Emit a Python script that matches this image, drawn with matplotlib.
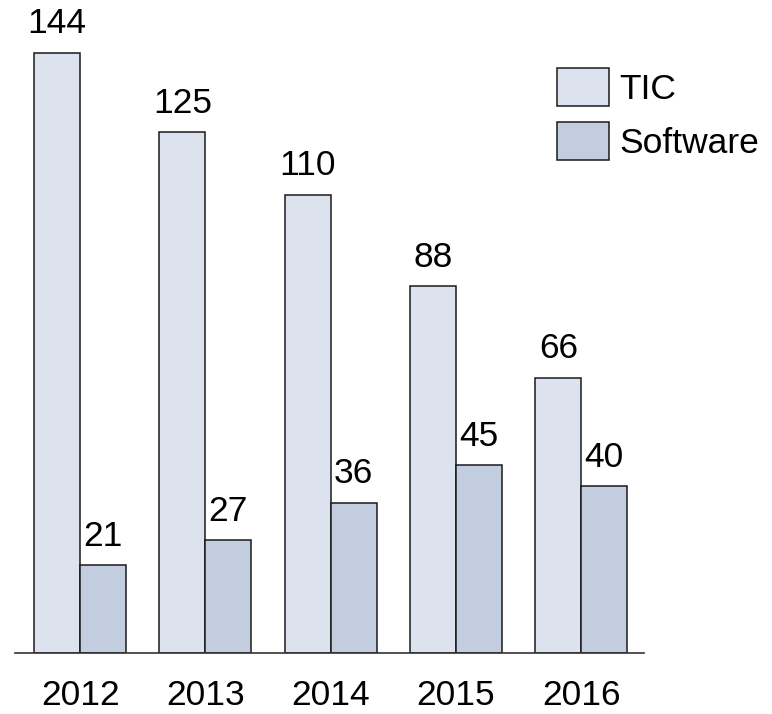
import numpy as np
import matplotlib.pyplot as plt

plt.rcParams['font.family'] = ['Liberation Sans', 'DejaVu Sans']

# datos
anios = ['2012', '2013', '2014', '2015', '2016']
tic = [144, 125, 110, 88, 66]
software = [21, 27, 36, 45, 40]

c_tic = '#dde3ee'
c_soft = '#c3cde0'
w = 0.367
fs = 25.5

fig = plt.figure(figsize=(7.72, 7.14), dpi=100)
ax = fig.add_axes([0.0194, 0.0859, 0.8148, 0.875])

x = np.arange(len(anios))
b1 = ax.bar(x - w / 2, tic, w, color=c_tic, edgecolor='#1a1a1a', linewidth=1.1, label='TIC')
b2 = ax.bar(x + w / 2, software, w, color=c_soft, edgecolor='#1a1a1a', linewidth=1.1, label='Software')

for barras in (b1, b2):
    for b in barras:
        ax.annotate(str(int(b.get_height())), (b.get_x() + b.get_width() / 2, b.get_height()),
                    xytext=(0, 9), textcoords='offset points', ha='center', va='bottom', fontsize=fs)

ax.set_xlim(-0.52, 4.50)
ax.set_ylim(0, 150)
ax.set_xticks(x)
ax.set_xticklabels(anios, fontsize=fs)
ax.tick_params(axis='x', length=0, pad=19)
ax.set_yticks([])
for s in ['top', 'right', 'left']:
    ax.spines[s].set_visible(False)
ax.spines['bottom'].set_color('#333333')
ax.spines['bottom'].set_linewidth(1.2)

fig.legend(loc='upper left', bbox_to_anchor=(557 / 772, 1 - 68 / 714), frameon=False, fontsize=fs,
           handlelength=1.47, handleheight=1.27, handletextpad=0.3, labelspacing=0.45,
           borderpad=0, borderaxespad=0)

fig.savefig('out.png', dpi=100)
